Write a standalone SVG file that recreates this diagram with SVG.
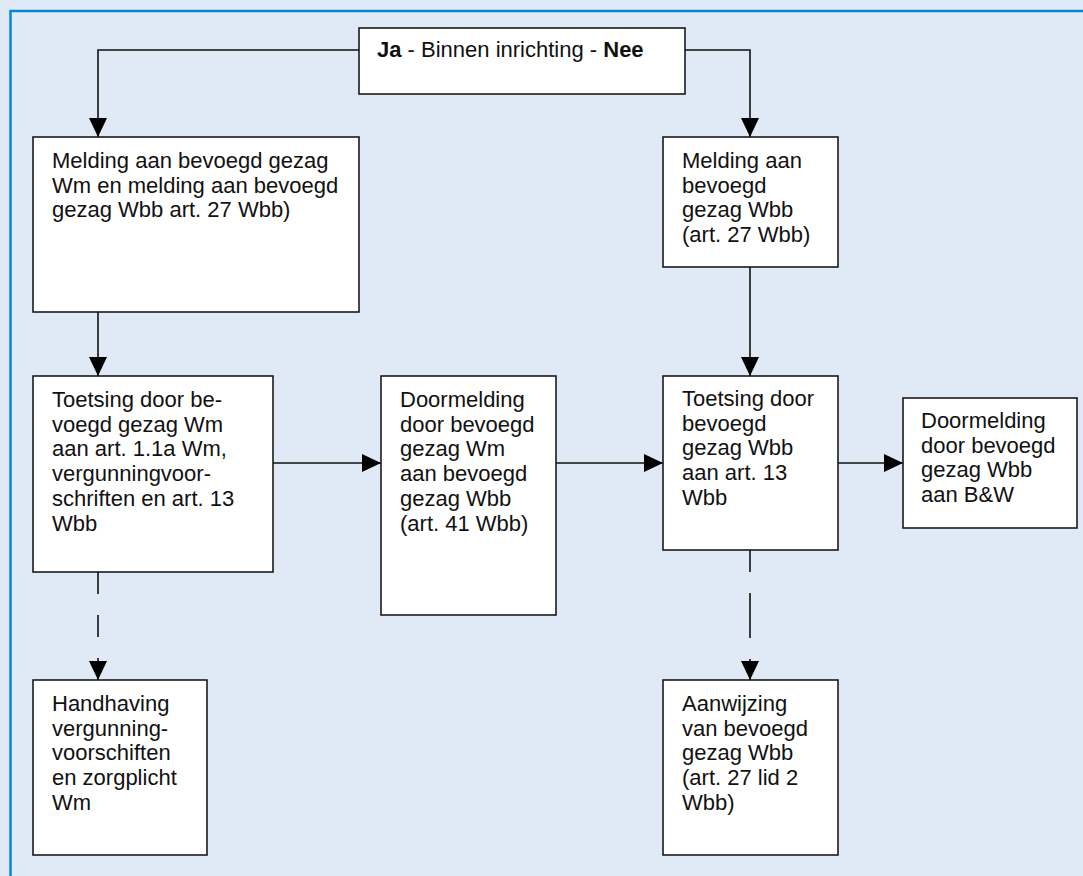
<svg xmlns="http://www.w3.org/2000/svg" width="1083" height="876" viewBox="0 0 1083 876">
<style>
.box{fill:#ffffff;stroke:#1a1a1a;stroke-width:1.6}
.t{font-family:"Liberation Sans",Arial,sans-serif;font-size:22px;fill:#111111}
.b{font-weight:bold}
.c{fill:none;stroke:#111111;stroke-width:1.6}
</style>
<defs>
<marker id="ah" viewBox="0 0 19 18" refX="19" refY="9" markerWidth="19" markerHeight="18" markerUnits="userSpaceOnUse" orient="auto">
<path d="M0,0 L19,9 L0,18 Z" fill="#000000"/>
</marker>
</defs>
<rect x="0" y="0" width="1083" height="876" fill="#dfeaf6"/>
<path d="M10.5,876 L10.5,11 L1083,11" fill="none" stroke="#0a86cf" stroke-width="2.5"/>
<g id="connectors">
<path class="c" d="M359,50 L98,50 L98,137" marker-end="url(#ah)"/>
<path class="c" d="M685,50 L750,50 L750,137" marker-end="url(#ah)"/>
<path class="c" d="M98,312 L98,376" marker-end="url(#ah)"/>
<path class="c" d="M750,267 L750,376" marker-end="url(#ah)"/>
<path class="c" d="M273,463 L381,463" marker-end="url(#ah)"/>
<path class="c" d="M556,463 L663,463" marker-end="url(#ah)"/>
<path class="c" d="M838,463 L903,463" marker-end="url(#ah)"/>
<path class="c" d="M98,572 L98,680" stroke-dasharray="22 21" marker-end="url(#ah)"/>
<path class="c" d="M750,550 L750,680" stroke-dasharray="22 21 45 21" marker-end="url(#ah)"/>
</g>
<g id="n-top">
<rect class="box" x="359" y="28" width="326" height="66"/>
<text class="t" x="377" y="57"><tspan class="b">Ja</tspan> - Binnen inrichting - <tspan class="b">Nee</tspan></text>
</g>
<g id="n-melding-wm">
<rect class="box" x="33" y="137" width="326" height="175"/>
<text class="t" x="52" y="168"><tspan x="52">Melding aan bevoegd gezag</tspan><tspan x="52" dy="24.7">Wm en melding aan bevoegd</tspan><tspan x="52" dy="24.7">gezag Wbb art. 27 Wbb)</tspan></text>
</g>
<g id="n-melding-wbb">
<rect class="box" x="663" y="137" width="175" height="130"/>
<text class="t" x="682" y="168"><tspan x="682">Melding aan</tspan><tspan x="682" dy="24.7">bevoegd</tspan><tspan x="682" dy="24.7">gezag Wbb</tspan><tspan x="682" dy="24.7">(art. 27 Wbb)</tspan></text>
</g>
<g id="n-toetsing-wm">
<rect class="box" x="33" y="376" width="240" height="196"/>
<text class="t" x="52" y="407"><tspan x="52">Toetsing door be-</tspan><tspan x="52" dy="24.7">voegd gezag Wm</tspan><tspan x="52" dy="24.7">aan art. 1.1a Wm,</tspan><tspan x="52" dy="24.7">vergunningvoor-</tspan><tspan x="52" dy="24.7">schriften en art. 13</tspan><tspan x="52" dy="24.7">Wbb</tspan></text>
</g>
<g id="n-doormelding-wm">
<rect class="box" x="381" y="376" width="175" height="239"/>
<text class="t" x="400" y="407"><tspan x="400">Doormelding</tspan><tspan x="400" dy="24.7">door bevoegd</tspan><tspan x="400" dy="24.7">gezag Wm</tspan><tspan x="400" dy="24.7">aan bevoegd</tspan><tspan x="400" dy="24.7">gezag Wbb</tspan><tspan x="400" dy="24.7">(art. 41 Wbb)</tspan></text>
</g>
<g id="n-toetsing-wbb">
<rect class="box" x="663" y="376" width="175" height="174"/>
<text class="t" x="682" y="406"><tspan x="682">Toetsing door</tspan><tspan x="682" dy="24.7">bevoegd</tspan><tspan x="682" dy="24.7">gezag Wbb</tspan><tspan x="682" dy="24.7">aan art. 13</tspan><tspan x="682" dy="24.7">Wbb</tspan></text>
</g>
<g id="n-doormelding-wbb">
<rect class="box" x="903" y="398" width="174" height="130"/>
<text class="t" x="921" y="428"><tspan x="921">Doormelding</tspan><tspan x="921" dy="24.7">door bevoegd</tspan><tspan x="921" dy="24.7">gezag Wbb</tspan><tspan x="921" dy="24.7">aan B&amp;W</tspan></text>
</g>
<g id="n-handhaving">
<rect class="box" x="33" y="680" width="174" height="175"/>
<text class="t" x="52" y="711"><tspan x="52">Handhaving</tspan><tspan x="52" dy="24.7">vergunning-</tspan><tspan x="52" dy="24.7">voorschiften</tspan><tspan x="52" dy="24.7">en zorgplicht</tspan><tspan x="52" dy="24.7">Wm</tspan></text>
</g>
<g id="n-aanwijzing">
<rect class="box" x="663" y="680" width="175" height="175"/>
<text class="t" x="682" y="711"><tspan x="682">Aanwijzing</tspan><tspan x="682" dy="24.7">van bevoegd</tspan><tspan x="682" dy="24.7">gezag Wbb</tspan><tspan x="682" dy="24.7">(art. 27 lid 2</tspan><tspan x="682" dy="24.7">Wbb)</tspan></text>
</g>
</svg>
